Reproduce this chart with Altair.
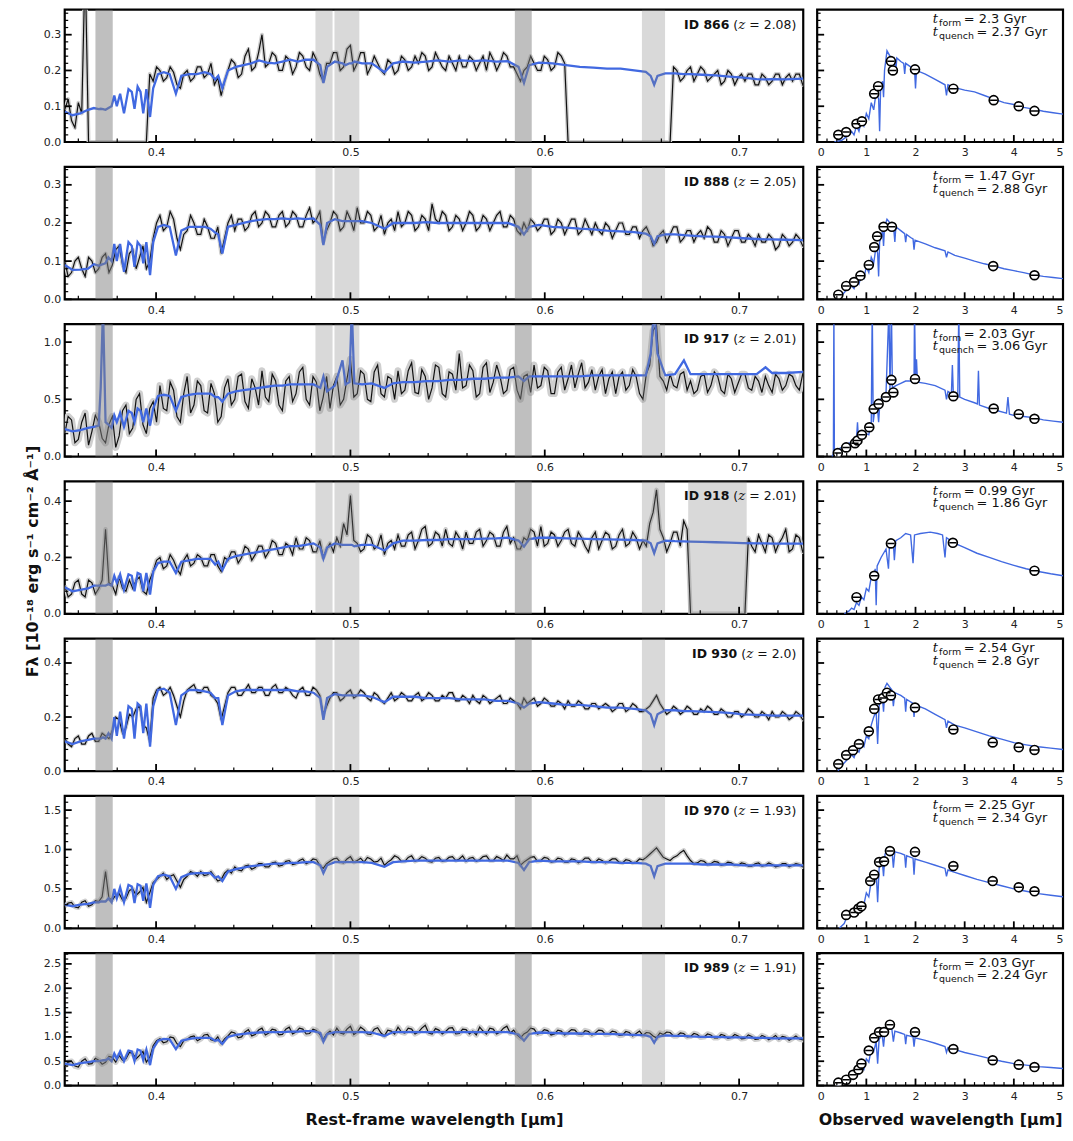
import altair as alt
import pandas as pd

FONT = "DejaVu Sans"
SERIF = "DejaVu Serif"
BLUE = "#4169E1"

IDS = ["866", "888", "917", "918", "930", "970", "989"]
ZS = ["2.08", "2.05", "2.01", "2.01", "2.0", "1.93", "1.91"]
TFORM = ["2.3", "1.47", "2.03", "0.99", "2.54", "2.25", "2.03"]
TQUENCH = ["2.37", "2.88", "3.06", "1.86", "2.8", "2.34", "2.24"]

YMAX = [0.37, 0.347, 1.157, 0.47, 0.49, 1.68, 2.72]
YMAJ = [[0, 0.1, 0.2, 0.3], [0, 0.1, 0.2, 0.3], [0, 0.5, 1.0], [0, 0.2, 0.4],
        [0, 0.2, 0.4], [0, 0.5, 1.0, 1.5], [0, 0.5, 1.0, 1.5, 2.0, 2.5]]
YMIN_STEP = [0.02, 0.02, 0.1, 0.04, 0.04, 0.1, 0.1]

DARK_BANDS = [(0.3688, 0.3777), (0.5846, 0.5933)]
LIGHT_BANDS = [(0.4820, 0.4908), (0.4918, 0.5046), (0.6500, 0.6619)]
EXTRA_BAND_ROW4 = (0.6738, 0.7039)

# rest-frame wavelength grid of the model spectra (um)
MODEL_W = [
    0.353, 0.357, 0.361, 0.365, 0.368, 0.3705, 0.3715, 0.3727, 0.374, 0.3755,
    0.3771, 0.3785, 0.3798, 0.3815, 0.3835, 0.3858, 0.3875, 0.3889, 0.3905, 0.392,
    0.3934, 0.395, 0.3969, 0.3985, 0.401, 0.404, 0.407, 0.4102, 0.413, 0.417,
    0.421, 0.425, 0.428, 0.4304, 0.432, 0.4341, 0.437, 0.441, 0.445, 0.449,
    0.453, 0.457, 0.461, 0.465, 0.469, 0.473, 0.477, 0.481, 0.4845, 0.4861,
    0.488, 0.492, 0.4959, 0.4975, 0.4995, 0.5007, 0.502, 0.506, 0.511, 0.5175,
    0.522, 0.527, 0.533, 0.539, 0.545, 0.551, 0.557, 0.563, 0.569, 0.575,
    0.581, 0.5865, 0.5893, 0.592, 0.597, 0.604, 0.611, 0.618, 0.625, 0.632,
    0.639, 0.646, 0.652, 0.6545, 0.6563, 0.658, 0.662, 0.667, 0.6716, 0.675,
    0.681, 0.688, 0.695, 0.702, 0.709, 0.7136, 0.717, 0.724, 0.733,
]

MODEL_866 = [
    0.085, 0.075, 0.08, 0.09, 0.095, 0.092, 0.093, 0.092, 0.09, 0.095,
    0.10, 0.13, 0.10, 0.135, 0.08, 0.148, 0.14, 0.093, 0.155, 0.14,
    0.08, 0.148, 0.07, 0.15, 0.19, 0.195, 0.19, 0.135, 0.185, 0.19,
    0.19, 0.195, 0.19, 0.175, 0.185, 0.15, 0.2, 0.21, 0.215, 0.22,
    0.228, 0.222, 0.22, 0.225, 0.23, 0.225, 0.23, 0.23, 0.215, 0.165,
    0.21, 0.225, 0.22, 0.215, 0.22, 0.22, 0.225, 0.22, 0.22, 0.195,
    0.22, 0.225, 0.222, 0.225, 0.228, 0.225, 0.228, 0.226, 0.228, 0.225,
    0.226, 0.21, 0.165, 0.215, 0.222, 0.22, 0.215, 0.21, 0.208, 0.205,
    0.205, 0.2, 0.196, 0.185, 0.16, 0.185, 0.192, 0.192, 0.19, 0.19,
    0.188, 0.186, 0.183, 0.18, 0.176, 0.175, 0.176, 0.175, 0.177,
]
MODEL_888 = [
    0.09, 0.077, 0.078, 0.08, 0.092, 0.088, 0.09, 0.092, 0.095, 0.11,
    0.10, 0.145, 0.10, 0.145, 0.072, 0.15, 0.14, 0.085, 0.15, 0.14,
    0.094, 0.15, 0.063, 0.15, 0.19, 0.195, 0.19, 0.115, 0.18, 0.19,
    0.19, 0.19, 0.185, 0.175, 0.17, 0.12, 0.19, 0.195, 0.2, 0.205,
    0.208, 0.21, 0.21, 0.212, 0.21, 0.212, 0.21, 0.212, 0.195, 0.142,
    0.2, 0.21, 0.205, 0.205, 0.205, 0.205, 0.205, 0.205, 0.2, 0.185,
    0.2, 0.2, 0.2, 0.202, 0.2, 0.2, 0.2, 0.2, 0.2, 0.2,
    0.2, 0.19, 0.17, 0.19, 0.195, 0.19, 0.188, 0.185, 0.183, 0.18,
    0.178, 0.176, 0.172, 0.165, 0.145, 0.165, 0.17, 0.17, 0.168, 0.167,
    0.165, 0.164, 0.162, 0.16, 0.158, 0.157, 0.157, 0.156, 0.155,
]
MODEL_917 = [
    0.24, 0.22, 0.23, 0.25, 0.26, 0.27, 0.6, 1.3, 0.3, 0.28,
    0.25, 0.36, 0.30, 0.38, 0.26, 0.40, 0.38, 0.30, 0.42, 0.40,
    0.30, 0.42, 0.27, 0.42, 0.53, 0.54, 0.53, 0.40, 0.52, 0.54,
    0.55, 0.55, 0.55, 0.52, 0.52, 0.48, 0.55, 0.57, 0.58, 0.59,
    0.60, 0.61, 0.62, 0.62, 0.63, 0.63, 0.63, 0.63, 0.60, 0.70,
    0.57, 0.62, 0.84, 0.63, 0.65, 1.3, 0.64, 0.63, 0.64, 0.60,
    0.64, 0.65, 0.65, 0.66, 0.66, 0.67, 0.67, 0.68, 0.68, 0.69,
    0.69, 0.70, 0.66, 0.70, 0.70, 0.70, 0.70, 0.70, 0.71, 0.71,
    0.71, 0.71, 0.71, 0.9, 1.3, 0.9, 0.71, 0.72, 0.84, 0.72,
    0.72, 0.72, 0.72, 0.72, 0.72, 0.78, 0.73, 0.73, 0.74,
]
MODEL_918 = [
    0.094, 0.08, 0.085, 0.09, 0.10, 0.10, 0.10, 0.10, 0.10, 0.105,
    0.10, 0.135, 0.11, 0.14, 0.085, 0.14, 0.135, 0.08, 0.145, 0.14,
    0.08, 0.145, 0.068, 0.15, 0.18, 0.185, 0.185, 0.145, 0.185, 0.19,
    0.195, 0.195, 0.195, 0.175, 0.185, 0.155, 0.195, 0.205, 0.21, 0.215,
    0.22, 0.225, 0.23, 0.235, 0.24, 0.24, 0.245, 0.25, 0.235, 0.195,
    0.235, 0.25, 0.245, 0.245, 0.245, 0.245, 0.24, 0.245, 0.245, 0.225,
    0.25, 0.26, 0.26, 0.262, 0.262, 0.265, 0.265, 0.265, 0.267, 0.268,
    0.27, 0.26, 0.238, 0.265, 0.27, 0.27, 0.268, 0.267, 0.265, 0.264,
    0.263, 0.262, 0.26, 0.25, 0.215, 0.25, 0.26, 0.258, 0.257, 0.256,
    0.255, 0.254, 0.253, 0.251, 0.25, 0.25, 0.249, 0.249, 0.249,
]
MODEL_930 = [
    0.11, 0.10, 0.11, 0.115, 0.12, 0.12, 0.12, 0.125, 0.12, 0.14,
    0.12, 0.2, 0.13, 0.22, 0.12, 0.24, 0.23, 0.12, 0.25, 0.24,
    0.14, 0.25, 0.09, 0.24, 0.3, 0.305, 0.29, 0.17, 0.28, 0.3,
    0.3, 0.295, 0.29, 0.27, 0.27, 0.17, 0.28, 0.295, 0.3, 0.3,
    0.3, 0.3, 0.3, 0.3, 0.3, 0.295, 0.295, 0.29, 0.27, 0.19,
    0.27, 0.285, 0.28, 0.28, 0.28, 0.28, 0.28, 0.28, 0.275, 0.255,
    0.275, 0.275, 0.275, 0.27, 0.27, 0.27, 0.265, 0.265, 0.265, 0.26,
    0.26, 0.25, 0.235, 0.25, 0.255, 0.25, 0.245, 0.245, 0.24, 0.235,
    0.235, 0.23, 0.225, 0.21, 0.17, 0.21, 0.225, 0.225, 0.222, 0.222,
    0.22, 0.218, 0.215, 0.21, 0.208, 0.207, 0.205, 0.205, 0.205,
]
MODEL_970 = [
    0.30, 0.28, 0.30, 0.31, 0.33, 0.33, 0.34, 0.34, 0.34, 0.38,
    0.33, 0.50, 0.38, 0.52, 0.33, 0.55, 0.53, 0.32, 0.56, 0.54,
    0.35, 0.57, 0.26, 0.55, 0.66, 0.68, 0.66, 0.50, 0.65, 0.69,
    0.70, 0.70, 0.70, 0.64, 0.66, 0.60, 0.72, 0.75, 0.77, 0.79,
    0.80, 0.81, 0.82, 0.82, 0.83, 0.83, 0.84, 0.84, 0.80, 0.70,
    0.80, 0.84, 0.84, 0.84, 0.84, 0.84, 0.84, 0.84, 0.83, 0.78,
    0.84, 0.85, 0.86, 0.86, 0.86, 0.86, 0.86, 0.86, 0.86, 0.86,
    0.86, 0.83, 0.74, 0.84, 0.86, 0.85, 0.85, 0.85, 0.84, 0.84,
    0.83, 0.83, 0.82, 0.79, 0.66, 0.79, 0.82, 0.82, 0.82, 0.82,
    0.81, 0.81, 0.81, 0.80, 0.80, 0.80, 0.80, 0.80, 0.80,
]
MODEL_989 = [
    0.45, 0.42, 0.46, 0.48, 0.50, 0.50, 0.51, 0.52, 0.52, 0.56,
    0.50, 0.66, 0.55, 0.70, 0.50, 0.72, 0.70, 0.50, 0.74, 0.72,
    0.52, 0.74, 0.42, 0.76, 0.92, 0.96, 0.95, 0.75, 0.92, 0.96,
    0.98, 0.98, 0.98, 0.92, 0.94, 0.86, 1.00, 1.04, 1.06, 1.08,
    1.09, 1.10, 1.10, 1.10, 1.11, 1.11, 1.12, 1.12, 1.08, 0.90,
    1.06, 1.10, 1.10, 1.10, 1.10, 1.10, 1.10, 1.10, 1.09, 1.02,
    1.10, 1.10, 1.10, 1.10, 1.10, 1.10, 1.10, 1.10, 1.10, 1.10,
    1.10, 1.05, 0.92, 1.06, 1.09, 1.08, 1.07, 1.07, 1.06, 1.06,
    1.05, 1.04, 1.03, 1.00, 0.88, 1.00, 1.03, 1.02, 1.02, 1.01,
    1.00, 1.00, 0.99, 0.99, 0.98, 0.98, 0.97, 0.97, 0.97,
]

# observed spectra: pixels every 0.0035 um from 0.353 um, plus the in-between
# pixels (0.35475 + 0.0035 k); 0 = no data
DATA_W = [round(0.353 + 0.0035 * k, 5) for k in range(110)]
MID_W = [round(0.35475 + 0.0035 * k, 5) for k in range(109)]

DATA_866 = [
    0.09, 0.06, 0.11, 0.50, 0, 0, 0, 0, 0, 0,
    0, 0, 0, 0.17, 0.20, 0.18, 0.195, 0.15, 0.20, 0.18,
    0.21, 0.19, 0.16, 0.13, 0.20, 0.22, 0.19, 0.26, 0.21, 0.30,
    0.22, 0.24, 0.20, 0.23, 0.21, 0.24, 0.20, 0.23, 0.17, 0.22,
    0.25, 0.21, 0.27, 0.22, 0.25, 0.21, 0.22, 0.19, 0.22, 0.20,
    0.23, 0.21, 0.22, 0.24, 0.21, 0.23, 0.20, 0.22, 0.24, 0.21,
    0.23, 0.22, 0.20, 0.23, 0.22, 0.24, 0.21, 0.17, 0.21, 0.22,
    0.20, 0.23, 0.21, 0.24, 0, 0, 0, 0, 0, 0,
    0, 0, 0, 0, 0, 0, 0, 0, 0, 0,
    0.20, 0.18, 0.21, 0.19, 0.20, 0.18, 0.20, 0.17, 0.19, 0.18,
    0.17, 0.19, 0.16, 0.18, 0.17, 0.19, 0.18, 0.17, 0.19, 0.18,
]
MID_866 = [
    0.12, 0.04, 0.08, 0, 0, 0, 0, 0, 0, 0,
    0, 0, 0.19, 0.21, 0.17, 0.21, 0.16, 0.19, 0.17, 0.21,
    0.18, 0.22, 0.18, 0.17, 0.23, 0.18, 0.24, 0.20, 0.25, 0.21,
    0.25, 0.20, 0.24, 0.19, 0.25, 0.21, 0.25, 0.19, 0.22, 0.25,
    0.20, 0.26, 0.20, 0.25, 0.19, 0.24, 0.20, 0.23, 0.19, 0.24,
    0.20, 0.24, 0.25, 0.20, 0.25, 0.21, 0.24, 0.20, 0.21, 0.24,
    0.20, 0.24, 0.25, 0.20, 0.25, 0.21, 0.19, 0.20, 0.24, 0.20,
    0.24, 0.20, 0.25, 0.22, 0, 0, 0, 0, 0, 0,
    0, 0, 0, 0, 0, 0, 0, 0, 0, 0.21,
    0.17, 0.20, 0.17, 0.21, 0.17, 0.19, 0.16, 0.20, 0.16, 0.19,
    0.19, 0.16, 0.19, 0.16, 0.19, 0.16, 0.19, 0.19, 0.16,
]
DATA_888 = [
    0.10, 0.07, 0.11, 0.06, 0.10, 0.08, 0.12, 0.09, 0.14, 0.07,
    0.13, 0.11, 0.08, 0.16, 0.22, 0.19, 0.21, 0.13, 0.18, 0.20,
    0.17, 0.19, 0.16, 0.12, 0.20, 0.18, 0.21, 0.19, 0.23, 0.20,
    0.22, 0.19, 0.23, 0.20, 0.22, 0.19, 0.24, 0.21, 0.15, 0.20,
    0.22, 0.19, 0.21, 0.24, 0.20, 0.22, 0.19, 0.17, 0.21, 0.23,
    0.20, 0.22, 0.19, 0.21, 0.25, 0.20, 0.22, 0.19, 0.21, 0.20,
    0.22, 0.19, 0.21, 0.20, 0.23, 0.19, 0.21, 0.17, 0.18, 0.20,
    0.19, 0.21, 0.18, 0.20, 0.19, 0.21, 0.18, 0.19, 0.20, 0.17,
    0.19, 0.18, 0.20, 0.17, 0.19, 0.18, 0.17, 0.15, 0.18, 0.17,
    0.19, 0.16, 0.18, 0.17, 0.16, 0.18, 0.15, 0.17, 0.16, 0.18,
    0.15, 0.16, 0.17, 0.15, 0.16, 0.14, 0.16, 0.15, 0.16, 0.15,
]
MID_888 = [
    0.06, 0.10, 0.08, 0.11, 0.07, 0.11, 0.07, 0.13, 0.09, 0.12,
    0.08, 0.14, 0.10, 0.20, 0.18, 0.23, 0.16, 0.17, 0.22, 0.17,
    0.21, 0.16, 0.19, 0.16, 0.22, 0.21, 0.18, 0.22, 0.19, 0.23,
    0.19, 0.22, 0.19, 0.23, 0.19, 0.22, 0.20, 0.23, 0.18, 0.23,
    0.18, 0.23, 0.18, 0.20, 0.23, 0.18, 0.22, 0.20, 0.18, 0.19,
    0.23, 0.18, 0.22, 0.18, 0.21, 0.23, 0.18, 0.22, 0.18, 0.23,
    0.18, 0.22, 0.18, 0.22, 0.19, 0.22, 0.18, 0.20, 0.21, 0.18,
    0.21, 0.17, 0.21, 0.17, 0.21, 0.17, 0.21, 0.17, 0.18, 0.20,
    0.16, 0.20, 0.17, 0.19, 0.16, 0.19, 0.14, 0.17, 0.15, 0.19,
    0.15, 0.18, 0.15, 0.18, 0.19, 0.15, 0.18, 0.14, 0.18, 0.15,
    0.17, 0.14, 0.15, 0.17, 0.13, 0.17, 0.14, 0.17, 0.14,
]
DATA_917 = [
    0.20, 0.32, 0.15, 0.38, 0.22, 0.30, 0.12, 0.35, 0.18, 0.45,
    0.25, 0.55, 0.20, 0.48, 0.62, 0.40, 0.58, 0.30, 0.70, 0.45,
    0.62, 0.38, 0.55, 0.35, 0.68, 0.50, 0.72, 0.42, 0.60, 0.75,
    0.48, 0.66, 0.40, 0.70, 0.55, 0.78, 0.45, 0.65, 0.52, 0.42,
    0.70, 0.50, 0.85, 0.55, 0.72, 0.48, 0.80, 0.52, 0.68, 0.75,
    0.58, 0.82, 0.55, 0.70, 0.60, 0.78, 0.52, 0.72, 0.90, 0.62,
    0.75, 0.55, 0.82, 0.65, 0.70, 0.58, 0.78, 0.50, 0.72, 0.80,
    0.62, 0.75, 0.55, 0.78, 0.68, 0.60, 0.82, 0.65, 0.58, 0.76,
    0.68, 0.55, 0.74, 0.62, 0.70, 0.50, 0.80, 1.15, 0.66, 0.72,
    0.60, 0.74, 0.66, 0.58, 0.72, 0.62, 0.70, 0.55, 0.68, 0.64,
    0.72, 0.58, 0.66, 0.70, 0.56, 0.68, 0.62, 0.70, 0.58, 0.66,
]
MID_917 = [
    0.35, 0.12, 0.30, 0.10, 0.36, 0.16, 0.28, 0.08, 0.40, 0.20,
    0.50, 0.28, 0.42, 0.30, 0.42, 0.65, 0.35, 0.55, 0.38, 0.66,
    0.40, 0.64, 0.30, 0.60, 0.45, 0.70, 0.48, 0.68, 0.45, 0.52,
    0.72, 0.45, 0.66, 0.48, 0.74, 0.50, 0.70, 0.40, 0.70, 0.62,
    0.45, 0.68, 0.52, 0.75, 0.50, 0.74, 0.55, 0.70, 0.50, 0.55,
    0.75, 0.56, 0.76, 0.50, 0.80, 0.55, 0.74, 0.58, 0.60, 0.80,
    0.52, 0.78, 0.56, 0.80, 0.55, 0.76, 0.58, 0.70, 0.56, 0.60,
    0.78, 0.55, 0.74, 0.58, 0.80, 0.72, 0.60, 0.76, 0.70, 0.55,
    0.74, 0.70, 0.58, 0.76, 0.55, 0.72, 1.10, 0.70, 0.58, 0.62,
    0.72, 0.58, 0.55, 0.70, 0.56, 0.74, 0.58, 0.72, 0.56, 0.72,
    0.60, 0.70, 0.56, 0.62, 0.72, 0.58, 0.72, 0.62, 0.72,
]
DATA_918 = [
    0.10, 0.07, 0.12, 0.06, 0.11, 0.09, 0.30, 0.10, 0.13, 0.08,
    0.09, 0.13, 0.07, 0.15, 0.20, 0.17, 0.19, 0.14, 0.21, 0.18,
    0.20, 0.17, 0.21, 0.15, 0.19, 0.22, 0.20, 0.23, 0.21, 0.24,
    0.22, 0.25, 0.21, 0.24, 0.27, 0.23, 0.26, 0.22, 0.20, 0.25,
    0.27, 0.32, 0.42, 0.25, 0.23, 0.27, 0.24, 0.21, 0.26, 0.28,
    0.24, 0.29, 0.26, 0.31, 0.25, 0.28, 0.30, 0.24, 0.27, 0.29,
    0.25, 0.30, 0.26, 0.28, 0.24, 0.31, 0.27, 0.23, 0.26, 0.29,
    0.31, 0.25, 0.28, 0.26, 0.30, 0.24, 0.27, 0.22, 0.29, 0.26,
    0.28, 0.24, 0.30, 0.25, 0.27, 0.26, 0.32, 0.44, 0.27, 0.25,
    0.29, 0.33, 0, 0, 0, 0, 0, 0, 0, 0,
    0, 0.24, 0.28, 0.22, 0.27, 0.25, 0.30, 0.23, 0.27, 0.24,
]
MID_918 = [
    0.06, 0.11, 0.07, 0.12, 0.07, 0.12, 0.11, 0.07, 0.09, 0.12,
    0.12, 0.08, 0.12, 0.19, 0.16, 0.21, 0.16, 0.19, 0.17, 0.21,
    0.17, 0.21, 0.17, 0.20, 0.22, 0.18, 0.24, 0.19, 0.24, 0.20,
    0.26, 0.21, 0.25, 0.21, 0.23, 0.27, 0.22, 0.26, 0.23, 0.22,
    0.24, 0.28, 0.26, 0.22, 0.28, 0.23, 0.28, 0.25, 0.23, 0.24,
    0.28, 0.23, 0.30, 0.24, 0.29, 0.24, 0.25, 0.29, 0.23, 0.25,
    0.29, 0.24, 0.29, 0.24, 0.29, 0.25, 0.23, 0.27, 0.30, 0.24,
    0.24, 0.29, 0.24, 0.29, 0.25, 0.29, 0.24, 0.27, 0.23, 0.29,
    0.23, 0.28, 0.24, 0.29, 0.23, 0.24, 0.36, 0.30, 0.22, 0.29,
    0.24, 0.30, 0, 0, 0, 0, 0, 0, 0, 0,
    0.27, 0.22, 0.25, 0.28, 0.22, 0.27, 0.22, 0.28, 0.22,
]
DATA_930 = [
    0.12, 0.09, 0.13, 0.10, 0.14, 0.11, 0.13, 0.15, 0.19, 0.16,
    0.20, 0.24, 0.16, 0.27, 0.31, 0.29, 0.28, 0.20, 0.30, 0.32,
    0.29, 0.31, 0.27, 0.19, 0.29, 0.31, 0.28, 0.32, 0.29, 0.31,
    0.28, 0.32, 0.29, 0.30, 0.27, 0.31, 0.28, 0.30, 0.21, 0.27,
    0.29, 0.27, 0.30, 0.28, 0.29, 0.26, 0.28, 0.25, 0.29, 0.27,
    0.28, 0.26, 0.29, 0.27, 0.28, 0.26, 0.27, 0.29, 0.26, 0.27,
    0.28, 0.25, 0.27, 0.26, 0.28, 0.25, 0.26, 0.23, 0.25, 0.27,
    0.25, 0.26, 0.24, 0.25, 0.26, 0.24, 0.25, 0.23, 0.25, 0.24,
    0.24, 0.23, 0.25, 0.23, 0.24, 0.22, 0.24, 0.28, 0.23, 0.22,
    0.23, 0.22, 0.23, 0.21, 0.22, 0.23, 0.21, 0.22, 0.20, 0.22,
    0.21, 0.22, 0.20, 0.21, 0.22, 0.20, 0.21, 0.20, 0.21, 0.20,
]
MID_930 = [
    0.10, 0.12, 0.10, 0.13, 0.11, 0.14, 0.12, 0.20, 0.14, 0.21,
    0.23, 0.17, 0.11, 0.30, 0.28, 0.31, 0.24, 0.26, 0.31, 0.29,
    0.31, 0.28, 0.25, 0.24, 0.31, 0.28, 0.30, 0.29, 0.31, 0.28,
    0.31, 0.29, 0.31, 0.28, 0.30, 0.28, 0.31, 0.28, 0.24, 0.29,
    0.26, 0.29, 0.27, 0.30, 0.27, 0.29, 0.26, 0.27, 0.26, 0.29,
    0.26, 0.28, 0.26, 0.29, 0.26, 0.28, 0.29, 0.26, 0.28, 0.25,
    0.26, 0.28, 0.25, 0.27, 0.25, 0.27, 0.25, 0.27, 0.26, 0.24,
    0.27, 0.24, 0.26, 0.23, 0.24, 0.26, 0.23, 0.25, 0.23, 0.25,
    0.22, 0.25, 0.22, 0.25, 0.22, 0.23, 0.26, 0.25, 0.21, 0.24,
    0.21, 0.24, 0.21, 0.23, 0.24, 0.21, 0.23, 0.20, 0.22, 0.20,
    0.23, 0.20, 0.22, 0.19, 0.20, 0.22, 0.19, 0.22, 0.19,
]
DATA_970 = [
    0.28, 0.33, 0.26, 0.35, 0.30, 0.34, 0.72, 0.36, 0.44, 0.38,
    0.50, 0.46, 0.33, 0.58, 0.66, 0.62, 0.68, 0.52, 0.66, 0.70,
    0.72, 0.68, 0.66, 0.62, 0.74, 0.78, 0.73, 0.80, 0.77, 0.82,
    0.78, 0.84, 0.80, 0.86, 0.82, 0.88, 0.84, 0.87, 0.76, 0.85,
    0.89, 0.83, 0.91, 0.86, 0.84, 0.88, 0.85, 0.80, 0.87, 0.90,
    0.85, 0.92, 0.87, 0.89, 0.84, 0.90, 0.86, 0.91, 0.88, 0.85,
    0.90, 0.87, 0.92, 0.86, 0.89, 0.93, 0.88, 0.80, 0.87, 0.91,
    0.86, 0.89, 0.85, 0.88, 0.84, 0.87, 0.85, 0.89, 0.84, 0.86,
    0.85, 0.88, 0.83, 0.86, 0.84, 0.87, 0.94, 1.02, 0.90, 0.86,
    0.92, 0.99, 0.86, 0.83, 0.85, 0.82, 0.84, 0.81, 0.83, 0.80,
    0.82, 0.79, 0.83, 0.80, 0.81, 0.79, 0.82, 0.80, 0.81, 0.79,
]
MID_970 = [
    0.32, 0.27, 0.33, 0.28, 0.35, 0.40, 0.38, 0.42, 0.36, 0.48,
    0.42, 0.52, 0.45, 0.62, 0.70, 0.66, 0.60, 0.62, 0.72, 0.66,
    0.67, 0.72, 0.60, 0.70, 0.70, 0.74, 0.79, 0.75, 0.82, 0.78,
    0.83, 0.79, 0.85, 0.81, 0.86, 0.82, 0.88, 0.80, 0.82, 0.88,
    0.84, 0.88, 0.84, 0.89, 0.90, 0.84, 0.89, 0.84, 0.92, 0.85,
    0.90, 0.85, 0.91, 0.85, 0.89, 0.85, 0.90, 0.86, 0.92, 0.89,
    0.85, 0.91, 0.86, 0.91, 0.86, 0.88, 0.92, 0.84, 0.90, 0.85,
    0.90, 0.84, 0.89, 0.84, 0.88, 0.83, 0.89, 0.84, 0.88, 0.83,
    0.88, 0.84, 0.87, 0.83, 0.88, 0.90, 0.98, 0.96, 0.88, 0.90,
    0.96, 0.92, 0.82, 0.86, 0.81, 0.85, 0.80, 0.84, 0.80, 0.83,
    0.79, 0.82, 0.79, 0.83, 0.78, 0.82, 0.78, 0.82, 0.78,
]
DATA_989 = [
    0.40, 0.50, 0.38, 0.55, 0.45, 0.52, 0.48, 0.58, 0.62, 0.55,
    0.66, 0.62, 0.48, 0.82, 0.96, 0.90, 0.98, 0.80, 0.95, 1.02,
    0.96, 1.05, 0.92, 0.86, 1.02, 1.08, 1.00, 1.15, 1.05, 1.18,
    1.08, 1.14, 1.05, 1.20, 1.10, 1.16, 1.07, 1.13, 0.95, 1.12,
    1.18, 1.06, 1.22, 1.10, 1.15, 1.05, 1.19, 1.02, 1.12, 1.20,
    1.08, 1.16, 1.10, 1.24, 1.06, 1.14, 1.11, 1.19, 1.07, 1.15,
    1.12, 1.20, 1.06, 1.16, 1.10, 1.22, 1.14, 0.98, 1.10, 1.16,
    1.08, 1.13, 1.06, 1.12, 1.09, 1.14, 1.05, 1.11, 1.08, 1.13,
    1.06, 1.10, 1.04, 1.09, 1.07, 1.03, 1.08, 0.98, 1.05, 1.09,
    1.02, 1.07, 1.01, 1.05, 1.00, 1.04, 0.98, 1.03, 0.99, 1.02,
    0.97, 1.01, 0.96, 1.00, 0.98, 0.95, 0.99, 0.97, 0.96, 0.98,
]
MID_989 = [
    0.48, 0.40, 0.50, 0.44, 0.56, 0.44, 0.60, 0.48, 0.52, 0.68,
    0.55, 0.70, 0.58, 0.92, 0.88, 1.00, 0.86, 0.92, 1.00, 0.92,
    1.04, 0.94, 1.00, 0.96, 1.10, 0.98, 1.10, 1.02, 1.14, 1.04,
    1.16, 1.04, 1.16, 1.06, 1.18, 1.06, 1.16, 1.05, 1.06, 1.04,
    1.08, 1.16, 1.05, 1.20, 1.06, 1.16, 1.08, 1.14, 1.06, 1.10,
    1.18, 1.06, 1.18, 1.08, 1.17, 1.06, 1.18, 1.06, 1.16, 1.06,
    1.04, 1.12, 1.18, 1.06, 1.18, 1.08, 1.04, 1.06, 1.18, 1.06,
    1.15, 1.04, 1.14, 1.04, 1.15, 1.06, 1.13, 1.04, 1.14, 1.05,
    1.12, 1.03, 1.11, 1.02, 1.12, 1.09, 1.02, 1.08, 1.10, 1.02,
    1.08, 1.00, 1.07, 0.99, 1.06, 0.98, 1.05, 0.97, 1.05, 0.96,
    1.04, 0.95, 1.03, 0.94, 1.03, 1.01, 0.93, 1.02, 0.94,
]

# best-fit SED models (observed um, flux)
SED_866 = [(0.35, 0.0), (0.5, 0.005), (0.6, 0.015), (0.7, 0.03), (0.75, 0.02), (0.8, 0.045), (0.85, 0.03),
           (0.9, 0.06), (0.95, 0.045), (1.0, 0.08), (1.05, 0.065), (1.1, 0.11), (1.15, 0.09), (1.2, 0.14),
           (1.25, 0.12), (1.27, 0.03), (1.29, 0.15), (1.33, 0.17), (1.35, 0.125), (1.37, 0.2), (1.42, 0.255),
           (1.48, 0.24), (1.52, 0.23), (1.56, 0.235), (1.6, 0.2), (1.62, 0.235), (1.7, 0.225), (1.76, 0.22),
           (1.78, 0.19), (1.8, 0.22), (1.9, 0.21), (1.98, 0.205), (2.0, 0.15), (2.02, 0.2), (2.2, 0.19),
           (2.4, 0.175), (2.6, 0.16), (2.63, 0.13), (2.66, 0.16), (2.8, 0.152), (3.0, 0.145), (3.2, 0.14),
           (3.4, 0.13), (3.6, 0.12), (3.8, 0.11), (4.0, 0.105), (4.2, 0.097), (4.4, 0.092), (4.6, 0.086),
           (4.8, 0.082), (5.0, 0.078)]
SED_888 = [(0.38, 0.0), (0.5, 0.01), (0.6, 0.025), (0.7, 0.035), (0.75, 0.028), (0.8, 0.05), (0.85, 0.04),
           (0.9, 0.065), (0.95, 0.055), (1.0, 0.085), (1.05, 0.07), (1.1, 0.11), (1.15, 0.095), (1.2, 0.14),
           (1.23, 0.12), (1.25, 0.06), (1.27, 0.15), (1.33, 0.18), (1.35, 0.14), (1.37, 0.19), (1.42, 0.21),
           (1.48, 0.2), (1.55, 0.195), (1.58, 0.15), (1.6, 0.19), (1.7, 0.18), (1.78, 0.172), (1.8, 0.15),
           (1.82, 0.17), (1.9, 0.162), (1.95, 0.158), (1.97, 0.13), (1.99, 0.155), (2.2, 0.145), (2.4, 0.135),
           (2.6, 0.127), (2.63, 0.11), (2.66, 0.124), (2.8, 0.115), (3.0, 0.108), (3.2, 0.1), (3.4, 0.093),
           (3.6, 0.087), (3.8, 0.08), (4.0, 0.075), (4.2, 0.07), (4.4, 0.064), (4.6, 0.06), (4.8, 0.057),
           (5.0, 0.054)]
SED_917 = [(0.3, 0.0), (0.33, 0.02), (0.34, 1.3), (0.35, 0.05), (0.45, 0.07), (0.55, 0.09), (0.6, 0.1),
           (0.65, 0.12), (0.68, 0.1), (0.7, 0.13), (0.75, 0.12), (0.8, 0.15), (0.82, 0.3), (0.84, 0.15),
           (0.9, 0.17), (0.95, 0.16), (1.0, 0.2), (1.05, 0.19), (1.1, 0.3), (1.12, 1.3), (1.14, 0.3),
           (1.18, 0.44), (1.22, 0.45), (1.25, 0.3), (1.28, 0.5), (1.35, 0.52), (1.4, 0.55), (1.46, 1.3),
           (1.48, 0.58), (1.51, 1.3), (1.53, 0.6), (1.6, 0.62), (1.7, 0.64), (1.8, 0.66), (1.9, 0.66),
           (1.97, 0.66), (1.98, 1.3), (2.0, 0.66), (2.02, 0.85), (2.04, 0.65), (2.2, 0.64), (2.4, 0.62),
           (2.6, 0.58), (2.63, 0.5), (2.66, 0.57), (2.73, 0.55), (2.75, 0.8), (2.77, 0.54), (2.86, 0.52),
           (2.88, 1.3), (2.9, 0.52), (3.0, 0.5), (3.2, 0.47), (3.26, 0.46), (3.28, 0.75), (3.3, 0.45),
           (3.5, 0.42), (3.85, 0.38), (3.88, 0.52), (3.91, 0.37), (4.0, 0.36), (4.2, 0.35), (4.4, 0.34),
           (4.6, 0.32), (4.8, 0.31), (5.0, 0.3)]
SED_918 = [(0.55, 0.0), (0.65, 0.01), (0.7, 0.02), (0.75, 0.015), (0.8, 0.04), (0.85, 0.03), (0.9, 0.06),
           (0.95, 0.05), (1.0, 0.09), (1.05, 0.08), (1.1, 0.13), (1.15, 0.12), (1.18, 0.16), (1.2, 0.03),
           (1.22, 0.17), (1.3, 0.2), (1.4, 0.23), (1.45, 0.16), (1.47, 0.24), (1.55, 0.25), (1.57, 0.19),
           (1.6, 0.26), (1.7, 0.27), (1.8, 0.285), (1.9, 0.28), (1.95, 0.18), (1.98, 0.28), (2.1, 0.285),
           (2.3, 0.29), (2.45, 0.285), (2.55, 0.28), (2.6, 0.2), (2.63, 0.27), (2.8, 0.25), (3.0, 0.235),
           (3.25, 0.215), (3.5, 0.2), (3.75, 0.185), (4.0, 0.172), (4.25, 0.16), (4.5, 0.15), (4.75, 0.142),
           (5.0, 0.135)]
SED_930 = [(0.42, 0.0), (0.5, 0.02), (0.6, 0.04), (0.7, 0.06), (0.75, 0.05), (0.8, 0.08), (0.85, 0.07),
           (0.9, 0.1), (0.95, 0.09), (1.0, 0.13), (1.05, 0.12), (1.1, 0.17), (1.15, 0.2), (1.2, 0.22),
           (1.23, 0.1), (1.26, 0.24), (1.32, 0.29), (1.35, 0.22), (1.38, 0.31), (1.42, 0.325), (1.48, 0.31),
           (1.52, 0.3), (1.55, 0.24), (1.58, 0.29), (1.7, 0.28), (1.78, 0.27), (1.8, 0.22), (1.82, 0.265),
           (1.95, 0.25), (1.97, 0.2), (1.99, 0.245), (2.2, 0.23), (2.4, 0.21), (2.6, 0.19), (2.63, 0.16),
           (2.66, 0.185), (2.8, 0.17), (3.0, 0.16), (3.25, 0.145), (3.5, 0.13), (3.75, 0.118), (4.0, 0.105),
           (4.25, 0.097), (4.5, 0.09), (4.75, 0.085), (5.0, 0.08)]
SED_970 = [(0.45, 0.0), (0.55, 0.06), (0.6, 0.14), (0.65, 0.17), (0.7, 0.22), (0.75, 0.19), (0.8, 0.28),
           (0.85, 0.24), (0.9, 0.33), (0.95, 0.3), (1.0, 0.45), (1.05, 0.4), (1.1, 0.6), (1.15, 0.56),
           (1.2, 0.72), (1.23, 0.33), (1.26, 0.76), (1.32, 0.88), (1.35, 0.66), (1.38, 0.94), (1.45, 1.03),
           (1.52, 0.99), (1.55, 0.77), (1.58, 0.97), (1.7, 0.95), (1.78, 0.93), (1.8, 0.77), (1.82, 0.92),
           (1.95, 0.89), (1.97, 0.68), (1.99, 0.88), (2.2, 0.84), (2.4, 0.8), (2.6, 0.76), (2.63, 0.66),
           (2.66, 0.74), (2.8, 0.71), (3.0, 0.67), (3.25, 0.62), (3.5, 0.58), (3.75, 0.54), (4.0, 0.5),
           (4.25, 0.47), (4.5, 0.44), (4.75, 0.42), (5.0, 0.4)]
SED_989 = [(0.4, 0.0), (0.5, 0.06), (0.6, 0.12), (0.7, 0.2), (0.75, 0.16), (0.8, 0.28), (0.85, 0.24),
           (0.9, 0.38), (0.95, 0.33), (1.0, 0.55), (1.05, 0.48), (1.1, 0.75), (1.15, 0.7), (1.2, 0.9),
           (1.23, 0.45), (1.26, 0.95), (1.32, 1.05), (1.35, 0.8), (1.38, 1.12), (1.45, 1.2), (1.52, 1.15),
           (1.55, 0.9), (1.58, 1.12), (1.7, 1.08), (1.78, 1.05), (1.8, 0.85), (1.82, 1.03), (1.95, 1.0),
           (1.97, 0.8), (1.99, 0.98), (2.2, 0.93), (2.4, 0.87), (2.6, 0.8), (2.63, 0.68), (2.66, 0.78),
           (2.8, 0.74), (3.0, 0.68), (3.25, 0.62), (3.5, 0.56), (3.75, 0.5), (4.0, 0.45), (4.25, 0.42),
           (4.5, 0.39), (4.75, 0.37), (5.0, 0.35)]

# photometry (observed um, flux)
PHOT_866 = [(0.43, 0.02), (0.59, 0.028), (0.80, 0.051), (0.91, 0.058), (1.16, 0.135), (1.24, 0.156),
            (1.50, 0.226), (1.54, 0.20), (1.99, 0.203), (2.77, 0.149), (3.59, 0.117), (4.10, 0.10), (4.42, 0.087)]
PHOT_888 = [(0.43, 0.012), (0.59, 0.035), (0.75, 0.045), (0.88, 0.062), (1.05, 0.09), (1.16, 0.137),
            (1.22, 0.165), (1.35, 0.19), (1.52, 0.19), (3.58, 0.087), (4.42, 0.063)]
PHOT_917 = [(0.42, 0.03), (0.59, 0.08), (0.77, 0.117), (0.82, 0.14), (0.91, 0.19), (1.06, 0.256),
            (1.15, 0.416), (1.25, 0.46), (1.40, 0.52), (1.51, 0.67), (1.55, 0.56), (1.99, 0.678),
            (2.77, 0.527), (3.59, 0.42), (4.10, 0.37), (4.42, 0.33)]
PHOT_918 = [(0.80, 0.059), (1.16, 0.135), (1.50, 0.25), (2.76, 0.252), (4.42, 0.153)]
PHOT_930 = [(0.43, 0.026), (0.59, 0.059), (0.73, 0.077), (0.85, 0.10), (1.05, 0.147), (1.16, 0.23),
            (1.24, 0.265), (1.34, 0.27), (1.42, 0.29), (1.50, 0.28), (1.99, 0.235), (2.77, 0.154),
            (3.57, 0.106), (4.10, 0.088), (4.42, 0.078)]
PHOT_970 = [(0.59, 0.17), (0.75, 0.2), (0.84, 0.25), (0.9, 0.28), (1.08, 0.6), (1.16, 0.68), (1.26, 0.84),
            (1.36, 0.85), (1.48, 0.98), (1.99, 0.97), (2.77, 0.79), (3.57, 0.6), (4.10, 0.52), (4.42, 0.47)]
PHOT_989 = [(0.43, 0.06), (0.59, 0.12), (0.73, 0.22), (0.84, 0.33), (0.9, 0.45), (1.05, 0.72), (1.16, 0.98),
            (1.26, 1.1), (1.36, 1.1), (1.48, 1.25), (1.99, 1.1), (2.77, 0.75), (3.57, 0.52), (4.10, 0.43),
            (4.42, 0.38)]

MODELS = [MODEL_866, MODEL_888, MODEL_917, MODEL_918, MODEL_930, MODEL_970, MODEL_989]
DATAS = [DATA_866, DATA_888, DATA_917, DATA_918, DATA_930, DATA_970, DATA_989]
MIDS = [MID_866, MID_888, MID_917, MID_918, MID_930, MID_970, MID_989]
SEDS = [SED_866, SED_888, SED_917, SED_918, SED_930, SED_970, SED_989]
PHOTS = [PHOT_866, PHOT_888, PHOT_917, PHOT_918, PHOT_930, PHOT_970, PHOT_989]
for m in MODELS:
    assert len(m) == len(MODEL_W), len(m)
for d in DATAS:
    assert len(d) == len(DATA_W), len(d)
for d in MIDS:
    assert len(d) == len(MID_W), len(d)

# ---------------- layout / style -----------------
WL, WR, H = 742, 247, 133
HALO = [4, 4, 7, 4.5, 3.5, 4.5, 5.5]
INK = "#111111"

NORM = {"0": .636, "1": .636, "2": .636, "3": .636, "4": .636, "5": .636, "6": .636, "7": .636,
        "8": .636, "9": .636, " ": .318, ".": .318, "(": .390, ")": .390, "=": .838, "I": .295,
        "D": .770, "G": .775, "y": .592, "r": .411, "f": .352, "o": .612, "m": .974, "q": .635,
        "u": .634, "e": .615, "n": .634, "c": .550, "h": .634}
BOLD = {"0": .696, "1": .696, "2": .696, "3": .696, "4": .696, "5": .696, "6": .696, "7": .696,
        "8": .696, "9": .696, " ": .348, "I": .372, "D": .830}


def tw(s, size, bold=False):
    tot = 0.0
    for ch in s:
        w = NORM.get(ch, 0.6)
        if bold:
            w = BOLD.get(ch, w * 1.08)
        tot += w
    return tot * size


def txt(s, x, y, size, align="left", weight="normal", style="normal", font=FONT):
    return alt.Chart(pd.DataFrame({"t": [s]})).mark_text(
        align=align, baseline="alphabetic", fontSize=size, fontWeight=weight,
        fontStyle=style, font=font, color="#111111"
    ).encode(text="t:N", x=alt.value(x), y=alt.value(y))


def frange(a, b, step):
    out = []
    n = int((b - a) / step + 1e-6)
    for i in range(n + 1):
        out.append(round(a + i * step, 4))
    return out


def tick_layers(X, Y, xmaj, xmin, ymaj, ymin):
    lay = []
    for vals, ln, sw in ((xmaj, 7, 1.8), (xmin, 3.5, 1.2)):
        lay.append(alt.Chart(pd.DataFrame({"w": vals})).mark_rule(color="black", strokeWidth=sw).encode(
            x=X, y=alt.value(H), y2=alt.value(H - ln)))
    for vals, ln, sw in ((ymaj, 7, 1.8), (ymin, 3.5, 1.2)):
        lay.append(alt.Chart(pd.DataFrame({"f": vals})).mark_rule(color="black", strokeWidth=sw).encode(
            y=Y, x=alt.value(0), x2=alt.value(ln)))
    return lay


def yticks(i):
    maj = [v for v in YMAJ[i] if v < YMAX[i]]
    mins = [v for v in frange(0, YMAX[i], YMIN_STEP[i])
            if v < YMAX[i] and all(abs(v - m) > 1e-6 for m in maj)]
    return maj, mins


def left_panel(i):
    last = i == 6
    xs = alt.Scale(domain=[0.353, 0.733], nice=False, zero=False)
    ys = alt.Scale(domain=[0, YMAX[i]], nice=False, zero=False)
    xax = dict(values=[0.4, 0.5, 0.6, 0.7], format=".1f", ticks=False, domain=False, grid=False,
               labelPadding=5, labelFontSize=11, labelFont=FONT, labelColor="#222222")
    if last:
        xax.update(title="Rest-frame wavelength [μm]", titleFont=FONT, titleFontSize=16,
                   titleFontWeight="bold", titlePadding=10, titleColor="#111111")
    else:
        xax["title"] = None
    ymaj, ymin = yticks(i)
    yax = dict(values=ymaj, format=".1f", ticks=False, domain=False, grid=False,
               labelPadding=4, labelFontSize=11, labelFont=FONT, labelColor="#222222")
    if i == 3:
        yax.update(title="Fλ [10⁻¹⁸ erg s⁻¹ cm⁻² Å⁻¹]", titleFont=FONT, titleFontSize=16,
                   titleFontWeight="bold", titlePadding=3, titleY=80, titleColor="#111111")
    else:
        yax["title"] = None
    X = alt.X("w:Q", scale=xs, axis=alt.Axis(**xax))
    Y = alt.Y("f:Q", scale=ys, axis=alt.Axis(**yax))

    dfd = pd.concat([pd.DataFrame({"w": DATA_W, "f": DATAS[i]}),
                     pd.DataFrame({"w": MID_W, "f": MIDS[i]})]).sort_values("w")
    dfm = pd.DataFrame({"w": MODEL_W, "f": MODELS[i]})

    halo = alt.Chart(dfd).mark_line(color="#cfcfcf", strokeWidth=HALO[i], clip=True,
                                    strokeJoin="round").encode(x=X, y=Y)
    data = alt.Chart(dfd).mark_line(color=INK, strokeWidth=1.2, clip=True).encode(x=X, y=Y)
    model = alt.Chart(dfm).mark_line(color=BLUE, strokeWidth=2.3, clip=True).encode(x=X, y=Y)

    light = list(LIGHT_BANDS) + ([EXTRA_BAND_ROW4] if i == 3 else [])
    dark_df = pd.DataFrame({"w": [a for a, b in DARK_BANDS], "w2": [b for a, b in DARK_BANDS]})
    light_df = pd.DataFrame({"w": [a for a, b in light], "w2": [b for a, b in light]})
    dark = alt.Chart(dark_df).mark_rect(color="#808080", opacity=0.5).encode(
        x=X, x2="w2:Q", y=alt.value(0), y2=alt.value(H))
    lband = alt.Chart(light_df).mark_rect(color="#808080", opacity=0.3).encode(
        x=X, x2="w2:Q", y=alt.value(0), y2=alt.value(H))

    xmaj = [0.4, 0.5, 0.6, 0.7]
    xmin = [v for v in frange(0.36, 0.72, 0.02) if all(abs(v - m) > 1e-6 for m in xmaj)]
    ticks = tick_layers(X, Y, xmaj, xmin, ymaj, ymin)

    size = 12.5
    sD = " = " + ZS[i] + ")"
    sB = " ("
    xr = WL - 7
    base = 19
    xC = xr - tw(sD, size)
    xB = xC - 0.5 * size - 1
    xA = xB - tw(sB, size)
    texts = [
        txt("ID " + IDS[i], xA, base, size, align="right", weight="bold"),
        txt(sB, xB, base, size, align="right"),
        txt("z", xC, base, size + 1, align="right", style="italic", font=SERIF),
        txt(sD, xr, base, size, align="right"),
    ]
    return alt.layer(halo, data, model, dark, lband, *ticks, *texts).properties(width=WL, height=H)


def right_panel(i):
    last = i == 6
    xs = alt.Scale(domain=[0, 5], nice=False, zero=False)
    ys = alt.Scale(domain=[0, YMAX[i]], nice=False, zero=False)
    xax = dict(values=[0, 1, 2, 3, 4, 5], format="d", ticks=False, domain=False, grid=False,
               labelPadding=5, labelFontSize=11, labelFont=FONT, labelColor="#222222")
    if last:
        xax.update(title="Observed wavelength [μm]", titleFont=FONT, titleFontSize=16,
                   titleFontWeight="bold", titlePadding=10, titleColor="#111111")
    else:
        xax["title"] = None
    yax = dict(labels=False, ticks=False, domain=False, grid=False, title=None)
    X = alt.X("w:Q", scale=xs, axis=alt.Axis(**xax))
    Y = alt.Y("f:Q", scale=ys, axis=alt.Axis(**yax))

    sed = pd.DataFrame({"w": [p[0] for p in SEDS[i]], "f": [p[1] for p in SEDS[i]]})
    ph = pd.DataFrame({"w": [p[0] for p in PHOTS[i]], "f": [p[1] for p in PHOTS[i]]})
    line = alt.Chart(sed).mark_line(color=BLUE, strokeWidth=1.4, clip=True).encode(x=X, y=Y)
    pts = alt.Chart(ph).mark_point(shape="circle", filled=True, fill="white", stroke="black",
                                   strokeWidth=1.7, size=80, opacity=1, fillOpacity=1,
                                   strokeOpacity=1, clip=True).encode(x=X, y=Y)
    bar = alt.Chart(ph).mark_point(shape="M -0.8 0 L 0.8 0", filled=False, stroke="black",
                                   strokeWidth=1.5, size=80, opacity=1, clip=True).encode(x=X, y=Y)
    ymaj, ymin = yticks(i)
    xmaj = [1, 2, 3, 4]
    xmin = [v for v in frange(0.2, 4.8, 0.2) if all(abs(v - m) > 1e-6 for m in xmaj)]
    ticks = tick_layers(X, Y, xmaj, xmin, ymaj, ymin)

    x0 = 116
    big, sub = 13, 9.5
    texts = []
    for (label, val, yb) in (("form", TFORM[i], 13.5), ("quench", TQUENCH[i], 26)):
        texts.append(txt("t", x0, yb, big, style="italic", font=SERIF))
        texts.append(txt(label, x0 + 6.5, yb + 3, sub))
        texts.append(txt("= " + val + " Gyr", x0 + 6.5 + tw(label, sub) + 2.5, yb, big))
    return alt.layer(line, pts, bar, *ticks, *texts).properties(width=WR, height=H)


panels = []
for i in range(7):
    panels.append(left_panel(i))
    panels.append(right_panel(i))

chart = alt.concat(*panels, columns=2, spacing={"row": 25, "column": 14}, bounds="flush").properties(
    padding={"left": 15, "top": -3, "right": 0, "bottom": 0}, background="white"
).configure_view(stroke="black", strokeWidth=2.2)

chart.save("out.html", embed_options={"renderer": "svg", "actions": False})
